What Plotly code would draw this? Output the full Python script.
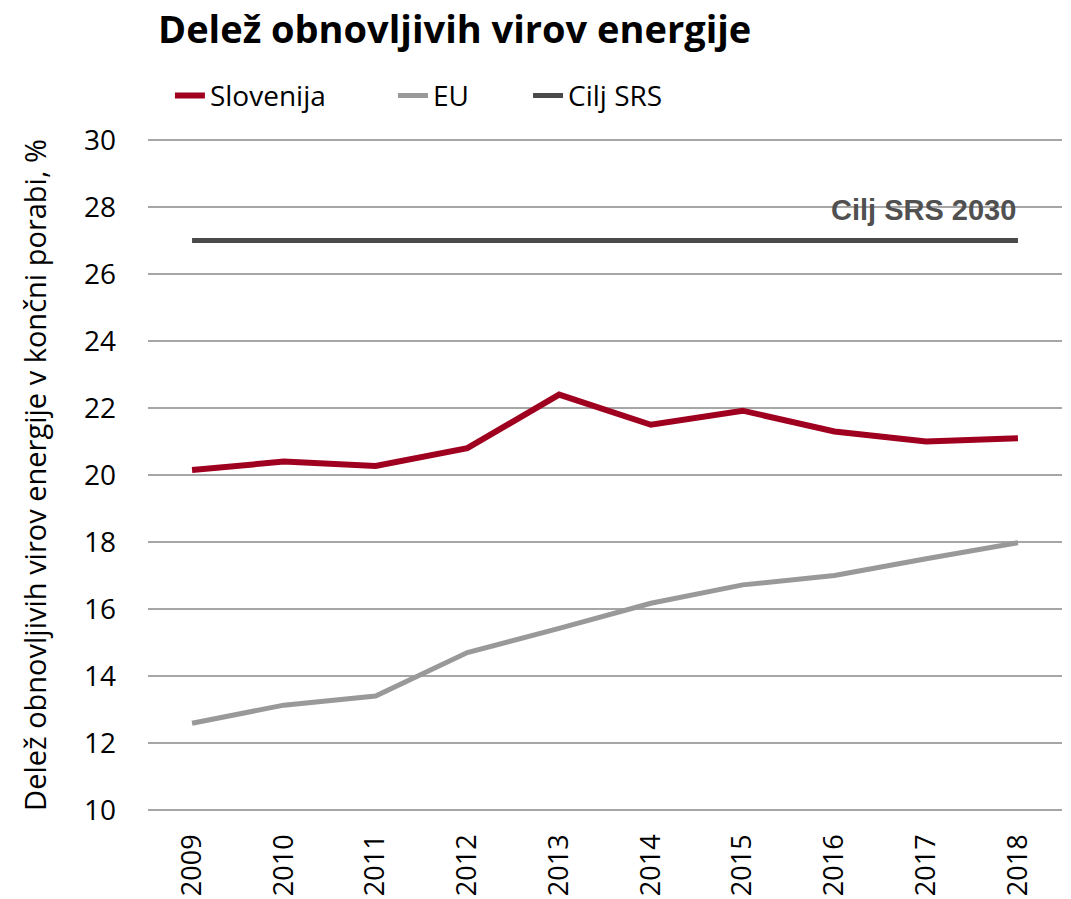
import plotly.graph_objects as go

years = ["2009", "2010", "2011", "2012", "2013", "2014", "2015", "2016", "2017", "2018"]
slovenija = [20.15, 20.4, 20.27, 20.8, 22.4, 21.5, 21.92, 21.3, 21.0, 21.1]
eu = [12.59, 13.13, 13.4, 14.7, 15.42, 16.17, 16.72, 17.0, 17.5, 17.98]
cilj = [27, 27, 27, 27, 27, 27, 27, 27, 27, 27]
y_ticks = [10, 12, 14, 16, 18, 20, 22, 24, 26, 28, 30]

FONT = "Open Sans"
W, H = 1063, 891  # page body has an 8px margin

fig = go.Figure()
fig.add_trace(go.Scatter(x=years, y=slovenija, mode="lines", name="Slovenija",
                         line=dict(color="#a0001f", width=6), legend="legend"))
fig.add_trace(go.Scatter(x=years, y=eu, mode="lines", name="EU",
                         line=dict(color="#999999", width=5), legend="legend2"))
fig.add_trace(go.Scatter(x=years, y=cilj, mode="lines", name="Cilj SRS",
                         line=dict(color="#4a4a4a", width=5), legend="legend3"))

fig.add_annotation(x=len(years) - 1, y=27.9, xref="x", yref="y", text="<b>Cilj SRS 2030</b>",
                   showarrow=False, xanchor="right", yanchor="middle",
                   font=dict(family="Liberation Sans", size=29, color="#505050"))

leg_common = dict(orientation="h", xanchor="left", yanchor="middle", y=1.0627,
                  font=dict(family=FONT, size=28, color="#000000"),
                  bgcolor="rgba(0,0,0,0)", borderwidth=0)

fig.update_layout(
    width=W, height=H,
    margin=dict(l=140, r=9, t=130, b=87, autoexpand=False),
    paper_bgcolor="white", plot_bgcolor="white",
    title=dict(text="<b>Delež obnovljivih virov energije</b>", x=150/W, xref="container",
               xanchor="left", y=1-22/H, yref="container", yanchor="middle",
               font=dict(family=FONT, size=38, color="#000000")),
    showlegend=True,
    legend=dict(x=0.024, **leg_common),
    legend2=dict(x=0.268, **leg_common),
    legend3=dict(x=0.4158, **leg_common),
    xaxis=dict(type="category", range=[-0.48, 9.48], showgrid=False, showline=False,
               ticks="", tickangle=-90, tickfont=dict(family=FONT, size=27, color="#000000"),
               ticklabelstandoff=16, zeroline=False, automargin=False),
    yaxis=dict(range=[9.94, 30.06], tickvals=y_ticks, showgrid=True, gridcolor="#a6a6a6",
               gridwidth=2, zeroline=False, showline=False, ticks="",
               tickfont=dict(family=FONT, size=28, color="#000000"),
               ticklabelstandoff=31, automargin=False,
               title=dict(text="Delež obnovljivih virov energije v končni porabi, %",
                          font=dict(family=FONT, size=29, color="#000000"), standoff=28)),
)

fig.write_html("out.html")
